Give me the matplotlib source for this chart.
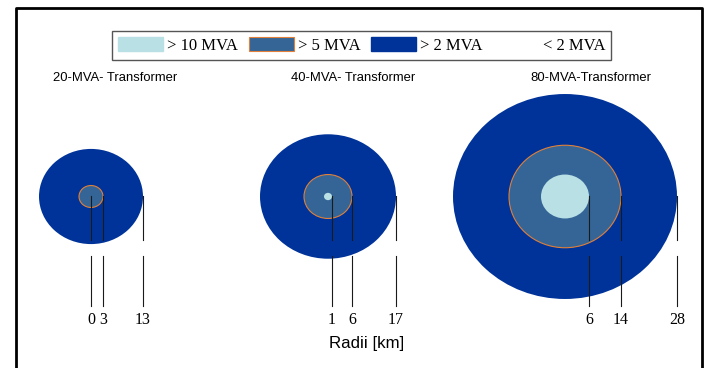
import matplotlib
matplotlib.use("Agg")
import matplotlib.pyplot as plt
from matplotlib.patches import Circle, Patch
from matplotlib.lines import Line2D

#Transformer names and the radii (km) of each load zone
transformers = ["20-MVA- Transformer", "40-MVA- Transformer", "80-MVA-Transformer"]
radius_10mva = [0, 1, 6]
radius_5mva = [3, 6, 14]
radius_2mva = [13, 17, 28]

legend_labels = ["> 10 MVA", "> 5 MVA", "> 2 MVA", "< 2 MVA"]
xlabel = "Radii [km]"

#Colours
LIGHT = "#b9e0e4"
MID = "#346596"
DARK = "#003399"
EDGE = "#e0803a"

#Layout (pixels on a 706x368 canvas)
W, H = 706, 368
PX_PER_KM_X = 4.0
PX_PER_KM_Y = 3.66
CENTRE_Y = 196.5
CENTRES_PX = [91, 328, 565]
TITLE_X_PX = [115, 353, 591]

SANS = ["Liberation Sans", "DejaVu Sans"]
SERIF = ["Liberation Serif", "DejaVu Serif"]


def fy(px):
    # pixel row -> figure fraction
    return 1 - px / H


fig = plt.figure(figsize=(W / 100, H / 100), dpi=100)
ax = fig.add_axes([0, 0, 1, 1])
ax.set_xlim(0, W / PX_PER_KM_X)
ax.set_ylim(-(H - CENTRE_Y) / PX_PER_KM_Y, CENTRE_Y / PX_PER_KM_Y)
ax.axis("off")

xt = ax.get_xaxis_transform()

for i, name in enumerate(transformers):
    cx = CENTRES_PX[i] / PX_PER_KM_X

    # load zones, largest first
    ax.add_patch(Circle((cx, 0), radius_2mva[i], fc=DARK, ec="none", zorder=1))
    ax.add_patch(Circle((cx, 0), radius_5mva[i], fc=MID, ec=EDGE, lw=0.8, zorder=2))
    if radius_10mva[i] > 0:
        ax.add_patch(Circle((cx, 0), radius_10mva[i], fc=LIGHT, ec="none", zorder=3))

    # radius markers with a break between the two segments
    for r in (radius_10mva[i], radius_5mva[i], radius_2mva[i]):
        x = cx + r
        ax.plot([x, x], [fy(CENTRE_Y), fy(240)], color="#1a1a1a", lw=0.8,
                transform=xt, zorder=4)
        ax.plot([x, x], [fy(256), fy(306)], color="#1a1a1a", lw=0.8,
                transform=xt, zorder=4)
        ax.text(x, fy(324), str(r), transform=xt, ha="center", va="baseline",
                family=SERIF, fontsize=11.5)

    fig.text(TITLE_X_PX[i] / W, fy(80.7), name, ha="center", va="baseline",
             family=SANS, fontsize=9.4)

fig.text(366.5 / W, fy(348), xlabel, ha="center", va="baseline",
         family=SANS, fontsize=12.2)

#Legend
handles = [
    Patch(fc=LIGHT, ec=LIGHT),
    Patch(fc=MID, ec=EDGE, lw=0.8),
    Patch(fc=DARK, ec=DARK),
    Patch(fc="white", ec="white"),
]
leg = fig.legend(handles, legend_labels, loc="upper left",
                 bbox_to_anchor=(112 / W, fy(31)), ncol=4,
                 prop={"family": SERIF, "size": 12},
                 handlelength=2.7, handleheight=0.95, handletextpad=0.25,
                 columnspacing=0.65, borderpad=0.35, borderaxespad=0,
                 fancybox=False, framealpha=1)
leg.get_frame().set_edgecolor("#555555")
leg.get_frame().set_linewidth(1.0)

#Outer frame, open at the bottom
fig.add_artist(Line2D([16 / W, 16 / W, 702 / W, 702 / W],
                      [0, fy(8), fy(8), 0], color="black", lw=2.0,
                      transform=fig.transFigure))

fig.savefig("out.png", dpi=100)
